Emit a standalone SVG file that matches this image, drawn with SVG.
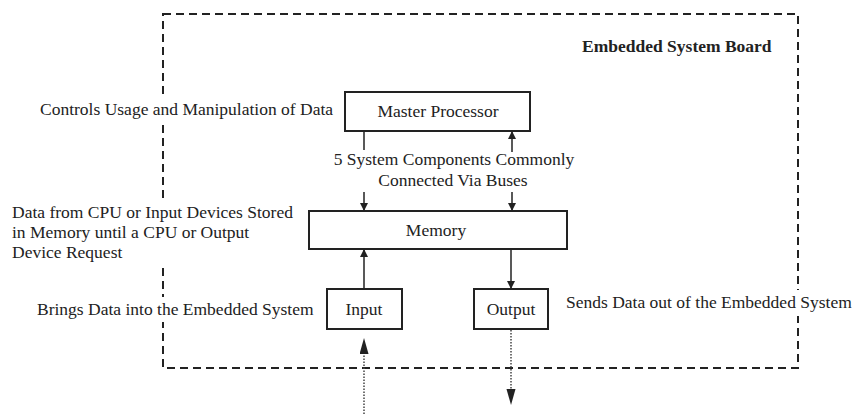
<svg xmlns="http://www.w3.org/2000/svg" width="854" height="414" viewBox="0 0 854 414">
<style>
text{font-family:"Liberation Serif","Times New Roman",serif;font-size:17.5px;fill:#222}
.box{fill:#fff;stroke:#222;stroke-width:2}
.bold{font-weight:bold}
.c{text-anchor:middle}
.ln{stroke:#222;stroke-width:1.5;fill:none}
.dot{stroke:#444;stroke-width:1.5;stroke-dasharray:1.5 1.5;fill:none}
.bg{fill:#fff}
</style>
<defs>
<marker id="a" markerUnits="userSpaceOnUse" markerWidth="8" markerHeight="10" refX="7" refY="4" orient="auto">
<path d="M0,0 L8,4 L0,8 z" fill="#222"/>
</marker>
<marker id="big" markerUnits="userSpaceOnUse" markerWidth="16" markerHeight="10" refX="15" refY="4.5" orient="auto">
<path d="M0,0 L16,4.5 L0,9 z" fill="#222"/>
</marker>
</defs>
<rect width="854" height="414" fill="#fff"/>
<g id="board">
<rect x="163" y="14" width="635" height="354" fill="none" stroke="#222" stroke-width="2" stroke-dasharray="8 5"/>
<text class="bold" x="582" y="52">Embedded System Board</text>
</g>
<g id="connectors">
<line class="ln" x1="364" y1="131" x2="364" y2="150"/>
<line class="ln" x1="512" y1="152" x2="512" y2="132" marker-end="url(#a)"/>
<line class="ln" x1="364" y1="192" x2="364" y2="210" marker-end="url(#a)"/>
<line class="ln" x1="512" y1="192" x2="512" y2="210" marker-end="url(#a)"/>
<line class="ln" x1="364" y1="289" x2="364" y2="250" marker-end="url(#a)"/>
<line class="ln" x1="511" y1="250" x2="511" y2="288" marker-end="url(#a)"/>
<line class="dot" x1="364" y1="414" x2="364" y2="350"/>
<line class="ln" x1="364" y1="354" x2="364" y2="339" marker-end="url(#big)" stroke-opacity="0"/>
<line class="dot" x1="511" y1="330" x2="511" y2="390"/>
<line class="ln" x1="511" y1="386" x2="511" y2="404" marker-end="url(#big)" stroke-opacity="0"/>
<text class="c" x="454" y="165">5 System Components Commonly</text>
<text class="c" x="453" y="186">Connected Via Buses</text>
</g>
<g id="master">
<rect class="box" x="345" y="92" width="185" height="39"/>
<text class="c" x="438" y="117">Master Processor</text>
</g>
<g id="memory">
<rect class="box" x="309" y="211" width="258" height="38"/>
<text class="c" x="436" y="236">Memory</text>
</g>
<g id="input">
<rect class="box" x="327" y="289" width="75" height="40"/>
<text class="c" x="364" y="315">Input</text>
</g>
<g id="output">
<rect class="box" x="474" y="289" width="74" height="40"/>
<text class="c" x="511" y="315">Output</text>
</g>
<g id="labels">
<rect class="bg" x="4" y="99" width="336" height="23"/>
<text x="40" y="115">Controls Usage and Manipulation of Data</text>
<rect class="bg" x="4" y="202" width="298" height="62"/>
<text x="12" y="218">Data from CPU or Input Devices Stored</text>
<text x="12" y="238">in Memory until a CPU or Output</text>
<text x="12" y="258">Device Request</text>
<rect class="bg" x="4" y="297" width="318" height="25"/>
<text x="37" y="315">Brings Data into the Embedded System</text>
<rect class="bg" x="560" y="290" width="294" height="26"/>
<text x="566" y="308">Sends Data out of the Embedded System</text>
</g>
</svg>
